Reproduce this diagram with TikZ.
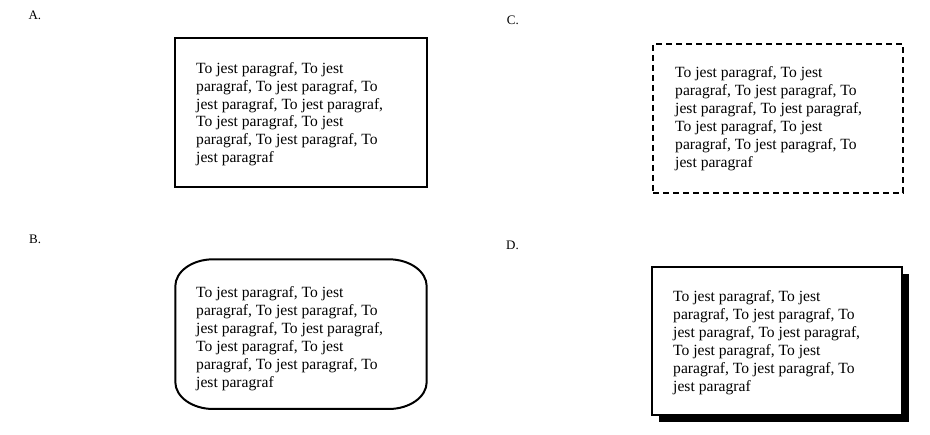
\documentclass[tikz,border=0pt]{standalone}
\usepackage{fontspec}
\setmainfont{Liberation Serif}
\usetikzlibrary{shadows}
\newcommand\parablock{\vtop{\baselineskip=17.9pt
\hbox{To jest paragraf, To jest}
\hbox{paragraf, To jest paragraf, To}
\hbox{jest paragraf, To jest paragraf,}
\hbox{To jest paragraf, To jest}
\hbox{paragraf, To jest paragraf, To}
\hbox{jest paragraf}}}
\begin{document}
\begin{tikzpicture}[x=1pt,y=-1pt,
  frame/.style={draw=black, line width=2pt, fill=white, inner sep=0pt, outer sep=0pt, anchor=north west},
  txt/.style={inner sep=0pt, anchor=base west, font=\fontsize{15.6}{17.9}\selectfont},
  lbl/.style={inner sep=0pt, anchor=base west, font=\fontsize{13}{15}\selectfont}]
\useasboundingbox[fill=white] (0,0) rectangle (930,435);
% labels
\node[lbl] (la) at (28.3,20) {A.};
\node[lbl] (lb) at (29,243.3) {B.};
\node[lbl] (lc) at (506.7,25) {C.};
\node[lbl] (ld) at (506,249.3) {D.};
% A: plain box
\node[frame, minimum width=251.5pt, minimum height=148.5pt] (boxa) at (175.3,38.3) {};
\node[txt] (ta) at (196,73.3) {\parablock};
% B: rounded box
\coordinate (boxb) at (175.3,259.3);
\draw[line width=2pt] (175.3+38,259.3) -- (426.7-38,259.3)
  arc[start angle=-90, end angle=0, x radius=38, y radius=27]
  -- (426.7,409-27)
  arc[start angle=0, end angle=90, x radius=38, y radius=27]
  -- (175.3+38,409)
  arc[start angle=90, end angle=180, x radius=38, y radius=27]
  -- (175.3,259.3+27)
  arc[start angle=180, end angle=270, x radius=38, y radius=27] -- cycle;
\node[txt] (tb) at (196,297.7) {\parablock};
% C: dashed box
\node[frame, dash pattern=on 6pt off 4pt, minimum width=250pt, minimum height=149pt] (boxc) at (653,44) {};
\node[txt] (tc) at (675,78) {\parablock};
% D: box with shadow
\node[frame, minimum width=250pt, minimum height=148pt,
  drop shadow={shadow xshift=7pt, shadow yshift=-7pt, fill=black, opacity=1}] (boxd) at (651.7,267.3) {};
\node[txt] (td) at (673,301.7) {\parablock};
\end{tikzpicture}
\end{document}
